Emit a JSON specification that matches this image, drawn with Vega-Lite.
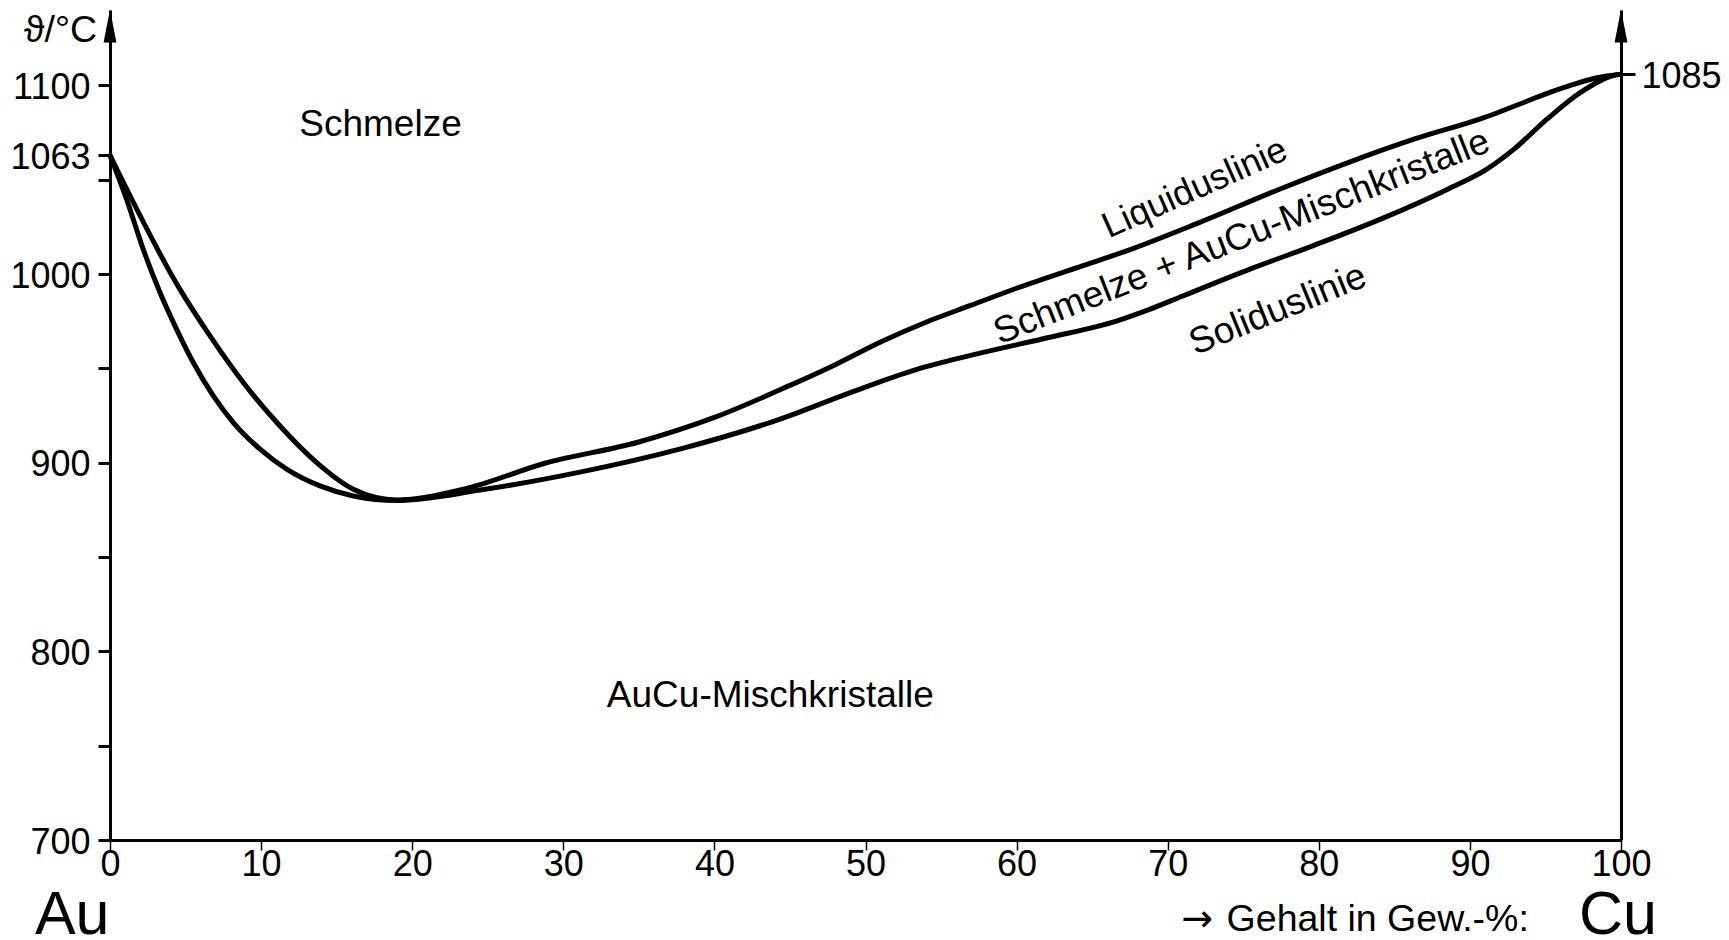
{
  "$schema": "https://vega.github.io/schema/vega-lite/v6.json",
  "width": 1511,
  "height": 830,
  "autosize": "none",
  "padding": {"left": 110, "top": 10, "right": 108, "bottom": 100},
  "background": "white",
  "config": {
    "view": {"stroke": null},
    "font": "Liberation Sans",
    "text": {"font": "Liberation Sans", "color": "black"},
    "axis": {"grid": false, "labelFont": "Liberation Sans", "labelColor": "black", "domainColor": "black", "tickColor": "black"}
  },
  "resolve": {"axis": {"y": "independent"}},
  "layer": [
    {
      "data": {
        "values": [
          {"curve": "Liquidus", "x": 0, "T": 1063},
          {"curve": "Liquidus", "x": 4.63, "T": 991.9},
          {"curve": "Liquidus", "x": 6.62, "T": 967.2},
          {"curve": "Liquidus", "x": 8.82, "T": 942.5},
          {"curve": "Liquidus", "x": 11.25, "T": 919.5},
          {"curve": "Liquidus", "x": 13.68, "T": 900.1},
          {"curve": "Liquidus", "x": 16.1, "T": 886},
          {"curve": "Liquidus", "x": 19, "T": 880.3},
          {"curve": "Liquidus", "x": 23.4, "T": 886},
          {"curve": "Liquidus", "x": 28.9, "T": 900},
          {"curve": "Liquidus", "x": 35, "T": 911},
          {"curve": "Liquidus", "x": 40, "T": 924},
          {"curve": "Liquidus", "x": 45, "T": 941},
          {"curve": "Liquidus", "x": 48, "T": 952},
          {"curve": "Liquidus", "x": 51, "T": 964},
          {"curve": "Liquidus", "x": 54, "T": 974.5},
          {"curve": "Liquidus", "x": 57, "T": 983.5},
          {"curve": "Liquidus", "x": 60, "T": 992.5},
          {"curve": "Liquidus", "x": 64.4, "T": 1004.5},
          {"curve": "Liquidus", "x": 67.7, "T": 1013.5},
          {"curve": "Liquidus", "x": 72, "T": 1027},
          {"curve": "Liquidus", "x": 77.4, "T": 1045},
          {"curve": "Liquidus", "x": 81.9, "T": 1059},
          {"curve": "Liquidus", "x": 86.3, "T": 1071.5},
          {"curve": "Liquidus", "x": 90.7, "T": 1082.3},
          {"curve": "Liquidus", "x": 96.2, "T": 1098.8},
          {"curve": "Liquidus", "x": 98.4, "T": 1104.1},
          {"curve": "Liquidus", "x": 100, "T": 1106},
          {"curve": "Solidus", "x": 0, "T": 1063},
          {"curve": "Solidus", "x": 1.1, "T": 1039.6},
          {"curve": "Solidus", "x": 2.2, "T": 1013.1},
          {"curve": "Solidus", "x": 3.31, "T": 990.2},
          {"curve": "Solidus", "x": 4.41, "T": 970.7},
          {"curve": "Solidus", "x": 5.51, "T": 953.1},
          {"curve": "Solidus", "x": 6.84, "T": 935.4},
          {"curve": "Solidus", "x": 8.16, "T": 921.3},
          {"curve": "Solidus", "x": 9.93, "T": 907.2},
          {"curve": "Solidus", "x": 11.69, "T": 896.6},
          {"curve": "Solidus", "x": 13.9, "T": 887.7},
          {"curve": "Solidus", "x": 16.1, "T": 882.4},
          {"curve": "Solidus", "x": 19, "T": 880},
          {"curve": "Solidus", "x": 24.5, "T": 885.5},
          {"curve": "Solidus", "x": 31.1, "T": 895},
          {"curve": "Solidus", "x": 37.7, "T": 907.2},
          {"curve": "Solidus", "x": 44.3, "T": 923},
          {"curve": "Solidus", "x": 49, "T": 937.2},
          {"curve": "Solidus", "x": 53.4, "T": 949.5},
          {"curve": "Solidus", "x": 57.8, "T": 958.5},
          {"curve": "Solidus", "x": 62.2, "T": 966.5},
          {"curve": "Solidus", "x": 66.6, "T": 975.1},
          {"curve": "Solidus", "x": 68.8, "T": 981.3},
          {"curve": "Solidus", "x": 71, "T": 988.4},
          {"curve": "Solidus", "x": 75.4, "T": 1002.5},
          {"curve": "Solidus", "x": 79.6, "T": 1015},
          {"curve": "Solidus", "x": 84.05, "T": 1029},
          {"curve": "Solidus", "x": 88.5, "T": 1044.9},
          {"curve": "Solidus", "x": 91.1, "T": 1055.5},
          {"curve": "Solidus", "x": 92.9, "T": 1066.1},
          {"curve": "Solidus", "x": 95.1, "T": 1082.1},
          {"curve": "Solidus", "x": 97.3, "T": 1096.2},
          {"curve": "Solidus", "x": 99.5, "T": 1105.3},
          {"curve": "Solidus", "x": 100, "T": 1106}
        ]
      },
      "mark": {"type": "line", "interpolate": "monotone", "color": "black", "strokeWidth": 5, "clip": false},
      "encoding": {
        "x": {"field": "x", "type": "quantitative", "title": null, "scale": {"domain": [0, 100], "nice": false, "zero": false},
          "axis": {"values": [0, 10, 20, 30, 40, 50, 60, 70, 80, 90, 100], "format": "d", "domainWidth": 3, "tickWidth": 1.5, "tickSize": 10, "labelFontSize": 36, "labelPadding": -3, "labelFlush": false, "labelOverlap": false, "labelBound": false}},
        "y": {"field": "T", "type": "quantitative", "title": null, "scale": {"domain": [700, 1140], "nice": false, "zero": false},
          "axis": {"orient": "left", "values": [700, 750, 800, 850, 900, 950, 1000, 1050, 1063, 1100], "format": "d", "labelExpr": "(datum.value % 100 == 0 || datum.value == 1063) ? datum.label : ''", "domainWidth": 3, "tickWidth": 3, "tickSize": 12, "labelFontSize": 36, "labelPadding": 8, "labelOffset": 2, "labelOverlap": false, "labelFlush": false, "labelBound": false}},
        "detail": {"field": "curve", "type": "nominal"}
      }
    },
    {
      "data": {"values": [{"x": 0, "T": 1131.5}, {"x": 100, "T": 1131.5}]},
      "mark": {"type": "point", "shape": "M0,-1L0.39,1L-0.39,1Z", "size": 1089, "filled": true, "color": "black", "opacity": 1, "clip": false},
      "encoding": {
        "x": {"field": "x", "type": "quantitative", "title": null, "scale": {"domain": [0, 100], "nice": false, "zero": false}},
        "y": {"field": "T", "type": "quantitative", "title": null, "scale": {"domain": [700, 1140], "nice": false, "zero": false},
          "axis": {"orient": "right", "values": [1106], "labelExpr": "'1085'", "domainWidth": 3, "tickWidth": 3, "tickSize": 14, "labelFontSize": 36, "labelPadding": 6, "labelOffset": 2, "labelOverlap": false, "labelFlush": false, "labelBound": false}}
      }
    },
    {
      "data": {"values": [{"x": 17.9, "T": 1073, "label": "Schmelze"}, {"x": 43.7, "T": 770.5, "label": "AuCu-Mischkristalle"}]},
      "mark": {"type": "text", "fontSize": 37, "align": "center", "baseline": "alphabetic"},
      "encoding": {
        "x": {"field": "x", "type": "quantitative", "title": null, "scale": {"domain": [0, 100], "nice": false, "zero": false}},
        "y": {"field": "T", "type": "quantitative", "title": null, "scale": {"domain": [700, 1140], "nice": false, "zero": false}, "axis": null},
        "text": {"field": "label", "type": "nominal"}
      }
    },
    {
      "data": {"values": [{"x": 71.8, "T": 1045.5, "label": "Liquiduslinie"}]},
      "mark": {"type": "text", "fontSize": 36, "align": "center", "baseline": "middle", "angle": -24},
      "encoding": {
        "x": {"field": "x", "type": "quantitative", "title": null, "scale": {"domain": [0, 100], "nice": false, "zero": false}},
        "y": {"field": "T", "type": "quantitative", "title": null, "scale": {"domain": [700, 1140], "nice": false, "zero": false}, "axis": null},
        "text": {"field": "label", "type": "nominal"}
      }
    },
    {
      "data": {"values": [{"x": 74.9, "T": 1019.5, "label": "Schmelze + AuCu-Mischkristalle"}]},
      "mark": {"type": "text", "fontSize": 37, "align": "center", "baseline": "middle", "angle": -21.5},
      "encoding": {
        "x": {"field": "x", "type": "quantitative", "title": null, "scale": {"domain": [0, 100], "nice": false, "zero": false}},
        "y": {"field": "T", "type": "quantitative", "title": null, "scale": {"domain": [700, 1140], "nice": false, "zero": false}, "axis": null},
        "text": {"field": "label", "type": "nominal"}
      }
    },
    {
      "data": {"values": [{"x": 77.3, "T": 981, "label": "Soliduslinie"}]},
      "mark": {"type": "text", "fontSize": 37, "align": "center", "baseline": "middle", "angle": -22},
      "encoding": {
        "x": {"field": "x", "type": "quantitative", "title": null, "scale": {"domain": [0, 100], "nice": false, "zero": false}},
        "y": {"field": "T", "type": "quantitative", "title": null, "scale": {"domain": [700, 1140], "nice": false, "zero": false}, "axis": null},
        "text": {"field": "label", "type": "nominal"}
      }
    },
    {
      "data": {"values": [{"x": -2.5, "T": 650.2, "label": "Au"}, {"x": 99.8, "T": 650.2, "label": "Cu"}]},
      "mark": {"type": "text", "fontSize": 61, "align": "center", "baseline": "alphabetic"},
      "encoding": {
        "x": {"field": "x", "type": "quantitative", "title": null, "scale": {"domain": [0, 100], "nice": false, "zero": false}},
        "y": {"field": "T", "type": "quantitative", "title": null, "scale": {"domain": [700, 1140], "nice": false, "zero": false}, "axis": null},
        "text": {"field": "label", "type": "nominal"}
      }
    },
    {
      "data": {"values": [{"x": -0.86, "T": 1122.8, "label": "ϑ/°C"}, {"x": 93.9, "T": 651.8, "label": "Gehalt in Gew.-%:"}]},
      "mark": {"type": "text", "fontSize": 37.5, "align": "right", "baseline": "alphabetic"},
      "encoding": {
        "x": {"field": "x", "type": "quantitative", "title": null, "scale": {"domain": [0, 100], "nice": false, "zero": false}},
        "y": {"field": "T", "type": "quantitative", "title": null, "scale": {"domain": [700, 1140], "nice": false, "zero": false}, "axis": null},
        "text": {"field": "label", "type": "nominal"}
      }
    },
    {
      "data": {"values": [{"x": 73.0, "T": 651.8, "label": "→"}]},
      "mark": {"type": "text", "fontSize": 38, "font": "DejaVu Sans", "align": "right", "baseline": "alphabetic"},
      "encoding": {
        "x": {"field": "x", "type": "quantitative", "title": null, "scale": {"domain": [0, 100], "nice": false, "zero": false}},
        "y": {"field": "T", "type": "quantitative", "title": null, "scale": {"domain": [700, 1140], "nice": false, "zero": false}, "axis": null},
        "text": {"field": "label", "type": "nominal"}
      }
    }
  ]
}
